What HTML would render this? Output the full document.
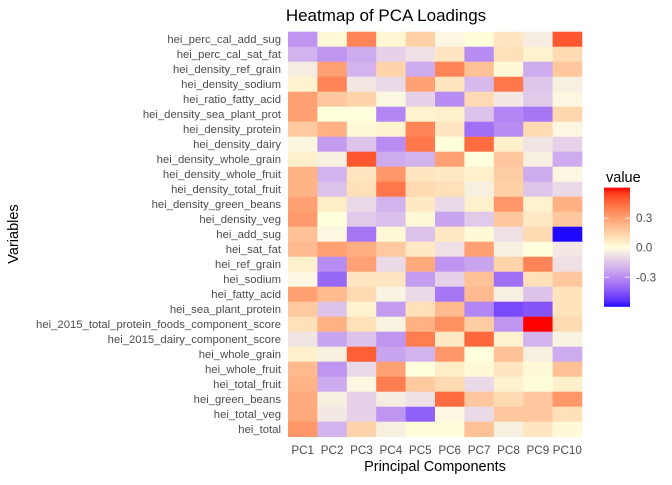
<!DOCTYPE html>
<html><head><meta charset="utf-8"><style>
body{margin:0;background:#fff;}
svg text{font-family:"Liberation Sans",Arial,sans-serif;}
</style></head><body>
<svg id="c" width="672" height="480" xmlns="http://www.w3.org/2000/svg">
<text x="386" y="21" font-size="17" text-anchor="middle" fill="#000">Heatmap of PCA Loadings</text>
<text x="435" y="471" font-size="14.5" text-anchor="middle" fill="#000">Principal Components</text>
<text transform="translate(18,234) rotate(-90)" font-size="14.5" text-anchor="middle" fill="#000">Variables</text>
<g id="cells"></g>
<g id="ylab"></g>
<g id="xlab"></g>
<g id="legend">
<text x="606" y="182" font-size="14.5" fill="#000">value</text>
<defs><linearGradient id="lg" x1="0" y1="1" x2="0" y2="0"></linearGradient></defs>
<rect id="cbar" x="604" y="188" width="26" height="114" fill="url(#lg)"/>
</g>
</svg>
<script>
const variables=["hei_perc_cal_add_sug","hei_perc_cal_sat_fat","hei_density_ref_grain","hei_density_sodium","hei_ratio_fatty_acid","hei_density_sea_plant_prot","hei_density_protein","hei_density_dairy","hei_density_whole_grain","hei_density_whole_fruit","hei_density_total_fruit","hei_density_green_beans","hei_density_veg","hei_add_sug","hei_sat_fat","hei_ref_grain","hei_sodium","hei_fatty_acid","hei_sea_plant_protein","hei_2015_total_protein_foods_component_score","hei_2015_dairy_component_score","hei_whole_grain","hei_whole_fruit","hei_total_fruit","hei_green_beans","hei_total_veg","hei_total"];
const components=["PC1","PC2","PC3","PC4","PC5","PC6","PC7","PC8","PC9","PC10"];
const loadings=[
[-0.28,0.02,0.38,0.03,0.15,-0.02,0.01,0.08,-0.05,0.5],
[-0.2,-0.28,-0.22,-0.12,-0.08,0.08,-0.3,0.1,0.04,0.12],
[-0.05,0.3,-0.2,0.14,-0.22,0.38,0.2,0.02,-0.22,0.18],
[0.04,0.38,-0.06,-0.1,0.3,0.08,-0.18,0.42,-0.15,-0.04],
[0.3,0.18,0.14,-0.02,-0.12,-0.3,0.12,-0.06,-0.14,-0.02],
[0.3,0.0,0.0,-0.32,0.04,0.05,-0.16,-0.32,-0.36,0.13],
[0.17,0.25,0.02,0.04,0.38,0.08,-0.38,-0.3,0.12,-0.02],
[-0.02,-0.26,-0.16,-0.3,0.42,0.0,0.45,0.05,-0.07,-0.12],
[0.05,-0.04,0.5,-0.22,-0.2,0.3,0.0,0.18,-0.04,-0.22],
[0.24,-0.2,0.08,0.33,0.08,0.07,0.05,0.16,-0.22,-0.02],
[0.24,-0.16,0.1,0.42,0.12,0.1,-0.04,0.15,-0.15,-0.1],
[0.3,0.06,-0.1,-0.2,0.07,-0.1,0.05,0.33,0.04,0.25],
[0.32,0.0,-0.14,-0.17,0.02,-0.24,-0.14,0.18,0.07,0.18],
[0.2,-0.02,-0.36,0.02,-0.16,0.07,0.02,-0.08,0.12,-0.6],
[0.22,0.3,0.26,0.17,0.07,-0.08,0.3,-0.04,0.0,-0.06],
[0.05,-0.3,0.3,-0.1,0.27,-0.28,-0.24,0.14,0.38,-0.08],
[-0.02,-0.4,0.08,0.08,-0.26,-0.12,0.2,-0.38,0.1,0.18],
[0.3,0.22,0.12,-0.03,-0.1,-0.36,0.22,-0.04,-0.16,0.09],
[0.17,-0.16,0.04,-0.26,0.1,0.22,-0.32,-0.48,-0.45,0.09],
[0.1,0.25,0.1,-0.03,0.25,0.35,0.16,-0.28,0.61,0.12],
[-0.07,-0.24,-0.16,-0.28,0.4,0.07,0.46,0.04,-0.2,-0.03],
[0.05,-0.04,0.48,-0.24,-0.2,0.33,0.0,0.2,-0.04,-0.22],
[0.22,-0.28,-0.1,0.3,0.0,0.06,0.02,0.08,0.02,0.2],
[0.24,-0.22,-0.02,0.4,0.17,0.12,-0.1,0.04,0.01,0.05],
[0.27,-0.04,-0.12,-0.05,-0.08,0.45,0.18,0.12,0.18,0.33],
[0.27,-0.06,-0.12,-0.28,-0.42,-0.02,-0.1,0.18,0.18,0.1],
[0.33,-0.2,0.14,-0.04,0.01,0.01,0.2,-0.04,0.08,0.02]
];
const legendTicks=[0.3,0.0,-0.3];
const legendLabels=["0.3","0.0","-0.3"];

const NS="http://www.w3.org/2000/svg";
const X0=288,X1=582,Y0=31.7,Y1=436.7;
const cw=(X1-X0)/components.length, rh=(Y1-Y0)/variables.length;
const xPos=i=>X0+i*cw, yPos=j=>Y0+j*rh;
let vmin=Infinity,vmax=-Infinity;
loadings.forEach(r=>r.forEach(v=>{vmin=Math.min(vmin,v);vmax=Math.max(vmax,v);}));
const lim=Math.max(Math.abs(vmin),Math.abs(vmax));
function toLin(c){c/=255;return c<=0.04045?c/12.92:Math.pow((c+0.055)/1.055,2.4);}
function fromLin(c){c=c<=0.0031308?12.92*c:1.055*Math.pow(c,1/2.4)-0.055;return Math.round(Math.max(0,Math.min(1,c))*255);}
function rgb2lab(r,g,b){r=toLin(r);g=toLin(g);b=toLin(b);
let x=(0.4124*r+0.3576*g+0.1805*b)/0.95047,y=0.2126*r+0.7152*g+0.0722*b,z=(0.0193*r+0.1192*g+0.9505*b)/1.08883;
const f=t=>t>0.008856?Math.cbrt(t):7.787*t+16/116;x=f(x);y=f(y);z=f(z);
return [116*y-16,500*(x-y),200*(y-z)];}
function lab2rgb(L,a,bb){let y=(L+16)/116,x=a/500+y,z=y-bb/200;
const fi=t=>t*t*t>0.008856?t*t*t:(t-16/116)/7.787;x=fi(x)*0.95047;y=fi(y);z=fi(z)*1.08883;
const r=3.2406*x-1.5372*y-0.4986*z,g=-0.9689*x+1.8758*y+0.0415*z,b=0.0557*x-0.2040*y+1.0570*z;
return `rgb(${fromLin(r)},${fromLin(g)},${fromLin(b)})`;}
const LOW=rgb2lab(0,0,255),MID=rgb2lab(255,255,222),HIGH=rgb2lab(255,0,0);
function color(v){let t=Math.max(-1,Math.min(1,v/lim));const e=t<0?LOW:HIGH;t=Math.abs(t);
return lab2rgb(MID[0]+(e[0]-MID[0])*t,MID[1]+(e[1]-MID[1])*t,MID[2]+(e[2]-MID[2])*t);}

const cells=document.getElementById('cells');
loadings.forEach((row,j)=>row.forEach((v,i)=>{
 const r=document.createElementNS(NS,'rect');
 r.setAttribute('x',xPos(i));r.setAttribute('y',yPos(j));
 r.setAttribute('width',cw+0.3);r.setAttribute('height',rh+0.3);
 r.setAttribute('fill',color(v));
 
 
 cells.appendChild(r);
}));
const ylab=document.getElementById('ylab');
variables.forEach((n,j)=>{
 const t=document.createElementNS(NS,'text');
 t.setAttribute('x',281);t.setAttribute('y',yPos(j)+rh/2+4);
 t.setAttribute('text-anchor','end');t.setAttribute('font-size','11.3');t.setAttribute('fill','#4d4d4d');
 t.textContent=n;
 
 
 ylab.appendChild(t);
});
const xlab=document.getElementById('xlab');
components.forEach((n,i)=>{
 const t=document.createElementNS(NS,'text');
 t.setAttribute('x',xPos(i)+cw/2);t.setAttribute('y',454);
 t.setAttribute('text-anchor','middle');t.setAttribute('font-size','11.7');t.setAttribute('fill','#4d4d4d');
 t.textContent=n;
 
 
 xlab.appendChild(t);
});
// legend: 0 at y=247.7, ~98 px per unit
const Z=247.7,PPU=98.5;
const ly=v=>Z-v*PPU;
const LT=ly(vmax),LB=ly(vmin);
const cbar=document.getElementById('cbar');
cbar.setAttribute('y',LT);cbar.setAttribute('height',LB-LT);
const lg=document.getElementById('lg');
for(let k=0;k<=20;k++){const v=vmin+(vmax-vmin)*k/20;const s=document.createElementNS(NS,'stop');
 s.setAttribute('offset',(k/20));s.setAttribute('stop-color',color(v));lg.appendChild(s);}
const leg=document.getElementById('legend');
legendTicks.forEach((v,k)=>{
 const y=ly(v);
 [[604,609],[625,630]].forEach(p=>{const l=document.createElementNS(NS,'line');
  l.setAttribute('x1',p[0]);l.setAttribute('x2',p[1]);l.setAttribute('y1',y);l.setAttribute('y2',y);
  l.setAttribute('stroke','#fff');l.setAttribute('stroke-opacity','0.7');
  
  
  leg.appendChild(l);});
 const t=document.createElementNS(NS,'text');
 t.setAttribute('x',636);t.setAttribute('y',y+4);t.setAttribute('font-size','11.7');t.setAttribute('fill','#4d4d4d');
 t.textContent=legendLabels[k];
 
 
 leg.appendChild(t);
});
</script>
</body></html>
